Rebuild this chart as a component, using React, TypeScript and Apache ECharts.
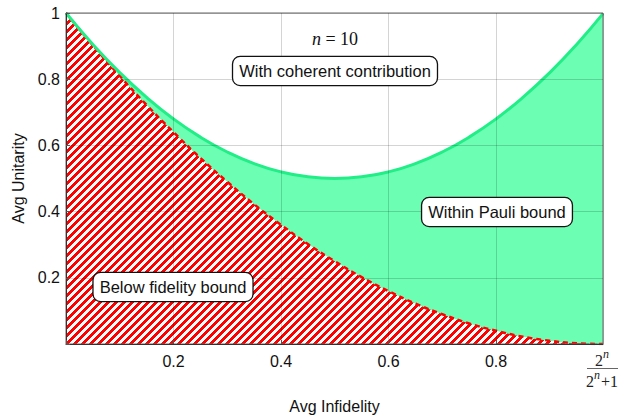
import React, { useEffect, useRef } from "react";
import * as echarts from "echarts";

const xs = [0, 0.05, 0.1, 0.15, 0.2, 0.25, 0.3, 0.35, 0.4, 0.45, 0.5, 0.55, 0.6, 0.65, 0.7, 0.75, 0.8, 0.85, 0.9, 0.95, 0.999];
const upperBound = [1, 0.905, 0.82, 0.745, 0.68, 0.625, 0.58, 0.545, 0.52, 0.505, 0.5, 0.505, 0.52, 0.545, 0.58, 0.625, 0.68, 0.745, 0.82, 0.905, 0.998];
const fidelityBound = [1, 0.902, 0.81, 0.722, 0.64, 0.562, 0.49, 0.422, 0.36, 0.302, 0.25, 0.202, 0.16, 0.122, 0.09, 0.062, 0.04, 0.022, 0.01, 0.002, 0];
const xMax = 0.999;
const xTickLabels = ["0.2", "0.4", "0.6", "0.8"];
const yTickLabels = ["0.2", "0.4", "0.6", "0.8", "1"];

function hatchPattern(): HTMLCanvasElement {
  const size = 16;
  const c = document.createElement("canvas");
  c.width = size;
  c.height = size;
  const ctx = c.getContext("2d")!;
  const img = ctx.createImageData(size, size);
  for (let y = 0; y < size; y++) {
    for (let x = 0; x < size; x++) {
      const red = (x + y) % 8 < 4;
      const o = (y * size + x) * 4;
      img.data[o] = 255;
      img.data[o + 1] = red ? 0 : 255;
      img.data[o + 2] = red ? 0 : 255;
      img.data[o + 3] = 255;
    }
  }
  ctx.putImageData(img, 0, 0);
  return c;
}

export default function App() {
  const ref = useRef<HTMLDivElement>(null);
  useEffect(() => {
    if (!ref.current) return;
    const chart = echarts.init(ref.current, undefined, { renderer: "svg" });
    const upperData = xs.map((x, i) => [x, upperBound[i]]);
    const lowerData = xs.map((x, i) => [x, fidelityBound[i]]);
    const font = "Liberation Sans, Arial, sans-serif";
    const serif = "Liberation Serif, Times New Roman, serif";
    const boxStyle = (text: string, x: number, y: number) => ({
      type: "text",
      x,
      y,
      z: 100,
      style: {
        text,
        x: 0,
        y: 0,
        align: "center",
        verticalAlign: "middle",
        fontSize: 16.5,
        fontFamily: font,
        fill: "#111",
        backgroundColor: "#fff",
        borderColor: "#111",
        borderWidth: 1.3,
        borderRadius: 7,
        padding: [6, 6, 5, 6],
      },
    });
    const pattern = hatchPattern();
    chart.setOption({
      animation: false,
      grid: { left: 66, right: 29, top: 13, bottom: 75, show: true, borderColor: "#666", borderWidth: 1, backgroundColor: "transparent", z: 5 },
      xAxis: {
        type: "value",
        min: 0,
        max: xMax,
        interval: 0.2,
        z: 5,
        name: "Avg Infidelity",
        nameLocation: "middle",
        nameGap: 54,
        nameTextStyle: { fontSize: 16, fontFamily: font, color: "#111" },
        axisLine: { lineStyle: { color: "#333", width: 1 } },
        axisTick: { inside: true, length: 4, lineStyle: { color: "#555" } },
        axisLabel: {
          fontSize: 16,
          fontFamily: font,
          color: "#111",
          margin: 9,
          showMaxLabel: false,
          formatter: (v: number) => {
            const s = v.toFixed(1);
            return xTickLabels.includes(s) ? s : "";
          },
        },
        splitLine: { show: true, lineStyle: { color: "rgba(0,0,0,0.17)", width: 1 } },
      },
      yAxis: {
        type: "value",
        min: 0,
        max: 1,
        interval: 0.2,
        z: 5,
        name: "Avg Unitarity",
        nameLocation: "middle",
        nameGap: 39,
        nameTextStyle: { fontSize: 16, fontFamily: font, color: "#111" },
        axisLine: { show: true, lineStyle: { color: "#333", width: 1 } },
        axisTick: { show: true, inside: true, length: 4, lineStyle: { color: "#555" } },
        axisLabel: {
          fontSize: 16,
          fontFamily: font,
          color: "#111",
          margin: 6,
          formatter: (v: number) => {
            const s = v === 1 ? "1" : v.toFixed(1);
            return yTickLabels.includes(s) ? s : "";
          },
        },
        splitLine: { show: true, lineStyle: { color: "rgba(0,0,0,0.17)", width: 1 } },
      },
      series: [
        {
          type: "line",
          data: upperData,
          smooth: true,
          symbol: "none",
          z: 1,
          lineStyle: { width: 0 },
          areaStyle: { color: "#6cffb4", opacity: 1 },
        },
        {
          type: "line",
          data: lowerData,
          smooth: true,
          symbol: "none",
          z: 2,
          lineStyle: { width: 2.5, color: "#ff0000", type: [5, 4] },
          areaStyle: {
            color: { image: pattern, repeat: "repeat", imageWidth: 16, imageHeight: 16 },
            opacity: 1,
          },
        },
        {
          type: "line",
          data: upperData,
          smooth: true,
          symbol: "none",
          z: 3,
          lineStyle: { width: 3, color: "#22ee88" },
        },
      ],
      graphic: [
        boxStyle("With coherent contribution", 335, 71),
        boxStyle("Within Pauli bound", 497, 212),
        boxStyle("Below fidelity bound", 173, 287),
        {
          type: "text",
          x: 335,
          y: 39,
          z: 100,
          style: {
            text: "{i|n} = 10",
            align: "center",
            verticalAlign: "middle",
            fontSize: 18,
            fontFamily: serif,
            fill: "#111",
            rich: { i: { fontStyle: "italic", fontSize: 18, fontFamily: serif, fill: "#111" } },
          },
        },
        { type: "text", x: 595, y: 352, style: { text: "2", fontSize: 16, fontFamily: serif, fill: "#222" } },
        { type: "text", x: 603, y: 348, style: { text: "n", fontSize: 12, fontStyle: "italic", fontFamily: serif, fill: "#222" } },
        { type: "line", shape: { x1: 587, y1: 368.5, x2: 618, y2: 368.5 }, style: { stroke: "#666", lineWidth: 1 } },
        { type: "text", x: 586, y: 373, style: { text: "2", fontSize: 16, fontFamily: serif, fill: "#222" } },
        { type: "text", x: 594, y: 369, style: { text: "n", fontSize: 12, fontStyle: "italic", fontFamily: serif, fill: "#222" } },
        { type: "text", x: 601, y: 373, style: { text: "+1", fontSize: 16, fontFamily: serif, fill: "#222" } },
      ],
    });
    return () => chart.dispose();
  }, []);
  return <div ref={ref} style={{ width: 632, height: 419, position: "absolute", left: 0, top: 0 }} />;
}
